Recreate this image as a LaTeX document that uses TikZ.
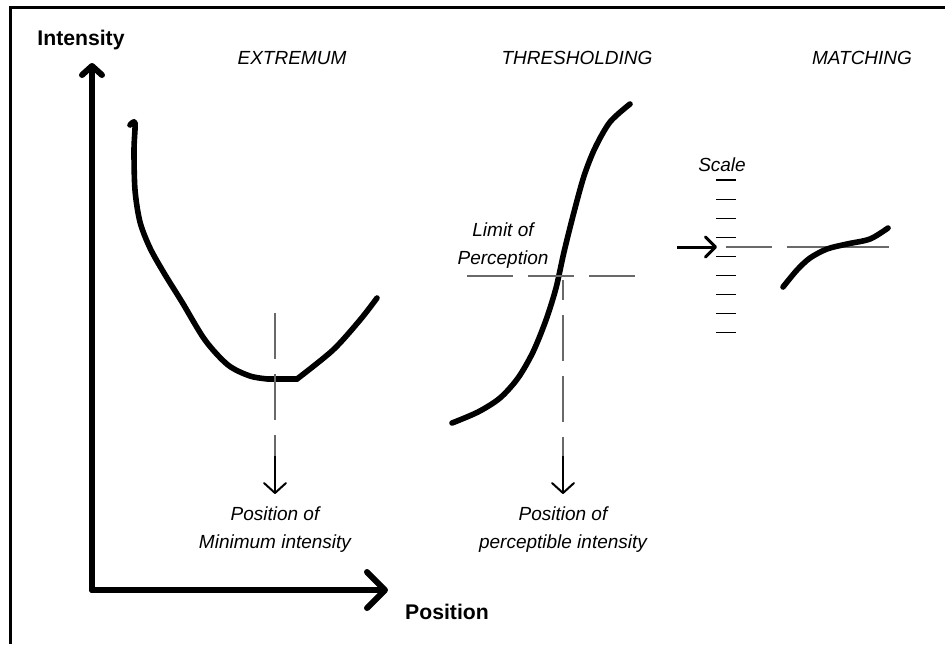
\documentclass[tikz,border=0pt]{standalone}
\usepackage{fontspec}
\setmainfont{Liberation Sans}
\usepackage{tikz}
\definecolor{guidegray}{RGB}{105, 105, 105}
\usetikzlibrary{arrows.meta}

\begin{document}
\begin{tikzpicture}[x=0.5pt, y=-0.5pt,
    axis/.style={line width=3pt, line cap=round, line join=round},
    curve/.style={line width=2.8pt, line cap=round, line join=round},
    guide/.style={guidegray, line width=0.6pt, dash pattern=on 23pt off 7.5pt},
    tick/.style={line width=0.6pt},
    pointer/.style={line width=1pt, -{Straight Barb[round, length=5pt, width=11pt]}},
    axislabel/.style={font=\fontsize{10.6}{12}\selectfont\bfseries},
    title/.style={font=\fontsize{9.5}{11}\selectfont\itshape},
    note/.style={font=\fontsize{9.5}{14}\selectfont\itshape, align=center}
]
    \useasboundingbox (0,0) rectangle (945,644);
    \draw[line width=1.5pt] (10,644) -- (10,7) -- (945,7);

    % Axes
    \coordinate (origin) at (92,590);
    \coordinate (ytip) at (92,63);
    \coordinate (xtip) at (388,590);
    \draw[axis, -{Straight Barb[round, length=4.5pt, width=10pt]}] (origin) -- (ytip);
    \draw[axis, -{Straight Barb[round, length=9pt, width=18pt]}] (origin) -- (xtip);
    \node[axislabel] (ylabel) at (81,40) {Intensity};
    \node[axislabel] (xlabel) at (447,612) {Position};

    % Titles
    \node[title] (extremum) at (292,58) {EXTREMUM};
    \node[title] (thresholding) at (577,58) {THRESHOLDING};
    \node[title] (matching) at (862,58) {MATCHING};

    % Extremum
    \draw[curve] plot[smooth, tension=0.5] coordinates {(130,125) (135,123) (134,150) (135,190)
        (140,222) (150,248) (164,273) (182,302) (205,340) (228,365) (250,376) (268,379)};
    \draw[curve] (268,379) -- (297,379);
    \draw[curve] plot[smooth, tension=0.5] coordinates {(297,379) (333,350) (360,320) (377,298)};
    \coordinate (minx) at (275,313);
    \coordinate (mina) at (275,456);
    \coordinate (minb) at (275,494);
    \draw[guide] (minx) -- (mina);
    \draw[pointer] (mina) -- (minb);
    \node[note] (minpos) at (275,530) {Position of\\Minimum intensity};

    % Thresholding
    \draw[curve] plot[smooth, tension=0.5] coordinates {(452,423) (478,412) (500,398) (518,378)
        (533,352) (546,320) (556,288) (564,252) (574,212) (584,176) (595,148) (610,122) (630,104)};
    \coordinate (limita) at (467,276);
    \coordinate (limitb) at (637,276);
    \draw[guide] (limita) -- (limitb);
    \node[note] (limit) at (503,246) {Limit of\\Perception};
    \coordinate (percx) at (563,280);
    \coordinate (perca) at (563,456);
    \coordinate (percb) at (563,494);
    \draw[guide, dash phase=13pt] (percx) -- (perca);
    \draw[pointer] (perca) -- (percb);
    \node[note] (percpos) at (563,530) {Position of\\perceptible intensity};

    % Matching
    \node[title] (scale) at (722,165) {Scale};
    \foreach \k in {0,...,8}
        \draw[tick] (716,{180+19.1*\k}) -- (736,{180+19.1*\k});
    \coordinate (arrowa) at (677,247);
    \coordinate (arrowb) at (717,247);
    \draw[line width=1.5pt, -{Straight Barb[round, length=5pt, width=10pt]}] (arrowa) -- (arrowb);
    \draw[guidegray, line width=0.6pt] (726,247) -- (772,247);
    \draw[guidegray, line width=0.6pt] (787,247) -- (889,247);
    \draw[curve] plot[smooth, tension=0.5] coordinates {(783,287) (797,270) (810,258) (827,249)
        (847,244) (870,239) (888,228)};
\end{tikzpicture}
\end{document}
